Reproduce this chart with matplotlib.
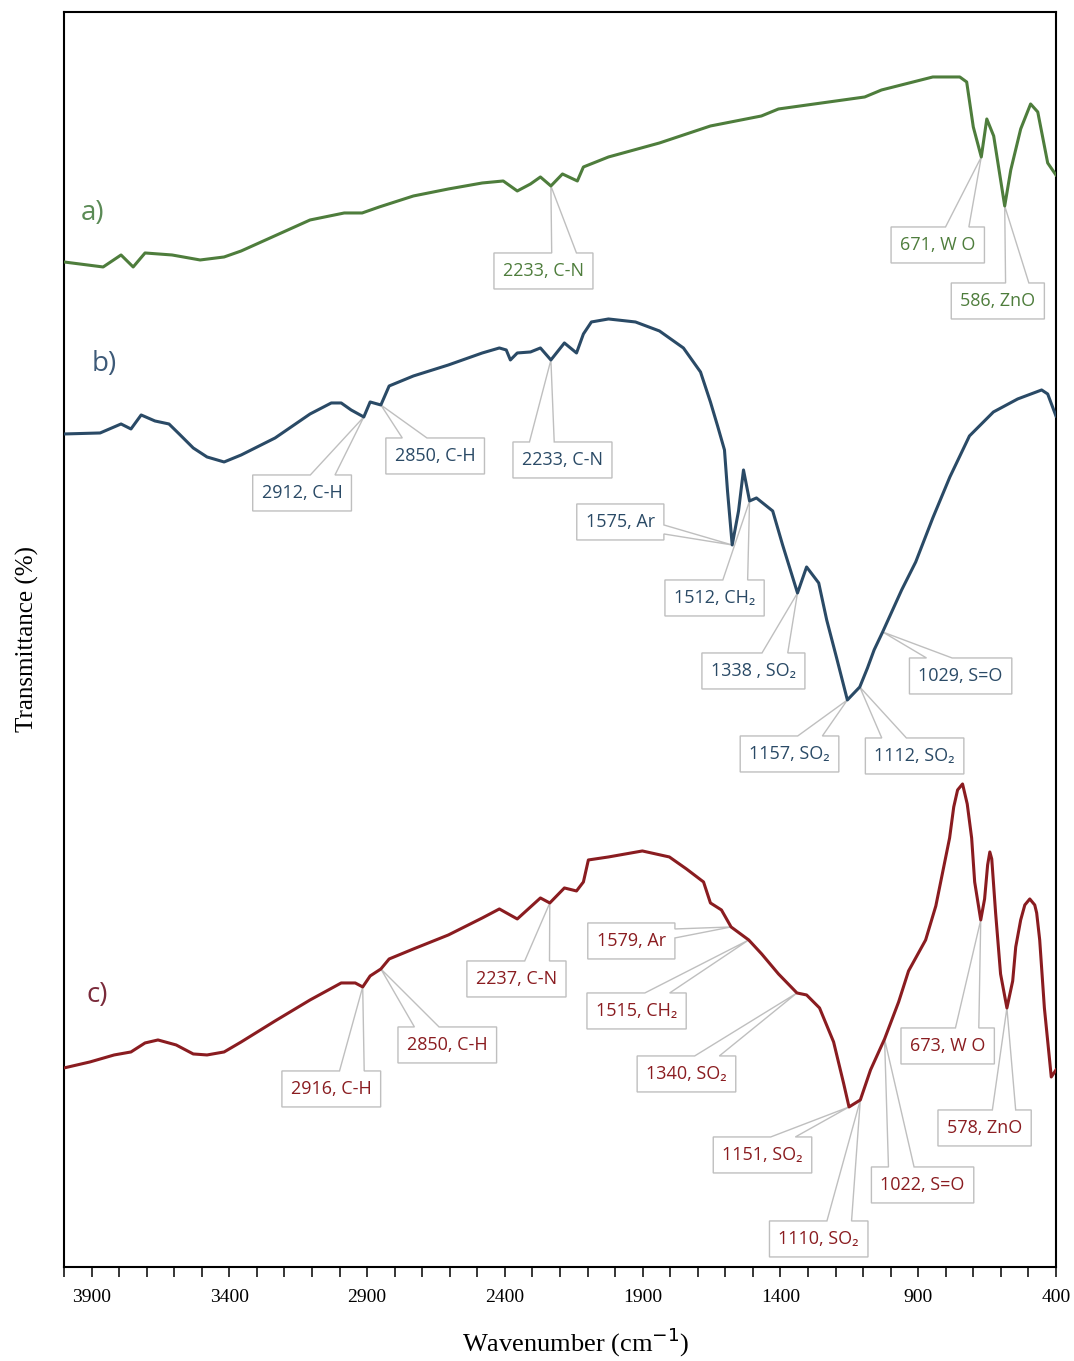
import matplotlib
matplotlib.use("Agg")
import matplotlib.pyplot as plt
from matplotlib.patches import Polygon
import numpy as np

# ---- data (wavenumber cm-1, transmittance a.u.) ----
wn_a = [4000, 3858, 3793, 3749, 3706, 3608, 3506, 3419, 3357, 3107, 2983, 2918, 2856,
        2732, 2605, 2482, 2406, 2355, 2307, 2271, 2233, 2191, 2137, 2115, 2024, 1839,
        1654, 1469, 1407, 1094, 1033, 847, 749, 724, 700, 671, 651, 626, 586, 564, 528,
        492, 466, 430, 400]
t_a = [1005, 1000, 1012, 1000, 1014, 1012, 1007, 1010, 1016, 1047, 1054, 1054, 1060,
       1071, 1078, 1084, 1086, 1076, 1083, 1090, 1081, 1093, 1086, 1100, 1110, 1124,
       1141, 1151, 1158, 1170, 1177, 1190, 1190, 1185, 1140, 1110, 1148, 1131, 1061, 1097,
       1138, 1163, 1155, 1104, 1092]

wn_b = [4000, 3869, 3793, 3757, 3720, 3670, 3619, 3582, 3531, 3481, 3419, 3357, 3234,
        3107, 3030, 2994, 2958, 2912, 2889, 2850, 2820, 2732, 2605, 2482, 2420, 2395,
        2380, 2355, 2307, 2271, 2233, 2184, 2140, 2115, 2086, 2024, 1926, 1839, 1752,
        1690, 1654, 1628, 1603, 1592, 1575, 1552, 1534, 1512, 1487, 1428, 1392, 1338,
        1305, 1261, 1232, 1196, 1157, 1112, 1084, 1060, 1029, 960, 909, 847, 785, 714,
        627, 539, 452, 430, 400]
t_b = [833, 834, 843, 838, 852, 846, 843, 833, 819, 810, 805, 812, 829,
       853, 864, 864, 857, 850, 865, 862, 881, 891, 902, 914, 919, 917,
       907, 914, 915, 919, 907, 924, 914, 933, 945, 948, 945, 936, 919,
       895, 865, 841, 817, 776, 722, 756, 797, 766, 769, 756, 722, 674,
       700, 684, 647, 609, 567, 580, 599, 617, 635, 677, 705, 749, 790, 831,
       855, 868, 877, 873, 851]

wn_c = [4000, 3906, 3818, 3757, 3706, 3659, 3593, 3531, 3481, 3419, 3357, 3234, 3107,
        2994, 2943, 2916, 2889, 2850, 2820, 2732, 2605, 2482, 2420, 2355, 2307, 2271,
        2237, 2184, 2140, 2115, 2097, 2024, 1901, 1803, 1741, 1679, 1654, 1614, 1579,
        1515, 1468, 1407, 1340, 1305, 1258, 1207, 1171, 1151, 1110, 1073, 1022, 971,
        935, 873, 836, 811, 786, 771, 757, 739, 722, 706, 695, 673, 659, 648, 640, 633,
        619, 601, 578, 557, 546, 528, 513, 495, 477, 470, 459, 442, 417, 400]
t_c = [199, 205, 212, 215, 224, 227, 222, 213, 212, 215, 225, 246, 267,
       284, 284, 280, 291, 298, 308, 318, 332, 349, 358, 348, 360, 369,
       364, 379, 376, 385, 407, 410, 416, 410, 398, 385, 364, 357, 340,
       327, 313, 293, 274, 272, 259, 225, 184, 160, 167, 197, 228, 265,
       296, 327, 361, 395, 429, 460, 477, 483, 463, 429, 385, 347, 368, 402, 415, 408,
       354, 293, 259, 286, 320, 347, 362, 368, 362, 354, 327, 259, 190, 197]

# callouts: text, label centre (wn, T), peak (wn, T)
notes_a = [("2233, C-N", 2260, 996, 2233, 1081),
           ("671, W O", 829, 1022, 671, 1110),
           ("586, ZnO", 611, 966, 586, 1061)]
notes_b = [("2912, C-H", 3136, 774, 2912, 850),
           ("2850, C-H", 2653, 811, 2850, 862),
           ("2233, C-N", 2191, 807, 2233, 907),
           ("1575, Ar", 1981, 745, 1575, 722),
           ("1512, CH\u2082", 1639, 669, 1512, 766),
           ("1338 , SO\u2082", 1498, 596, 1338, 674),
           ("1157, SO\u2082", 1367, 513, 1157, 567),
           ("1112, SO\u2082", 913, 511, 1112, 580),
           ("1029, S=O", 746, 591, 1029, 635)]
notes_c = [("2916, C-H", 3030, 178, 2916, 280),
           ("2850, C-H", 2609, 222, 2850, 298),
           ("2237, C-N", 2358, 288, 2237, 364),
           ("1579, Ar", 1941, 326, 1579, 340),
           ("1515, CH\u2082", 1922, 256, 1515, 327),
           ("1340, SO\u2082", 1741, 193, 1340, 274),
           ("1151, SO\u2082", 1465, 112, 1151, 160),
           ("1110, SO\u2082", 1261, 28, 1110, 167),
           ("1022, S=O", 884, 82, 1022, 228),
           ("673, W O", 793, 221, 673, 347),
           ("578, ZnO", 659, 139, 578, 259)]

green = "#4e7d3c"
blue = "#2a4a66"
red = "#8a1c20"

fig = plt.figure(figsize=(10.74, 13.61), dpi=100)
ax = fig.add_axes([0.0596, 0.0691, 0.9236, 0.9221])

ax.plot(wn_a, t_a, color=green, lw=2.2, zorder=3)
ax.plot(wn_b, t_b, color=blue, lw=2.2, zorder=3)
ax.plot(wn_c, t_c, color=red, lw=2.2, zorder=3)

ax.set_xlim(4000, 400)
ax.set_ylim(0, 1255)
ax.set_xticks(np.arange(3900, 399, -500))
ax.set_xticks(np.arange(4000, 399, -100), minor=True)
ax.tick_params(axis="x", which="both", direction="out", length=7, width=1.1,
               labelsize=14, pad=9)
ax.set_yticks([])
for lab in ax.get_xticklabels():
    lab.set_family("Liberation Serif")
for s in ax.spines.values():
    s.set_linewidth(1.5)

ax.set_xlabel("Wavenumber (cm$^{-1}$)", family="Liberation Serif", fontsize=19, labelpad=14)
ax.set_ylabel("Transmittance (%)", family="Liberation Serif", fontsize=18, labelpad=18)
ax.xaxis.label.set_x(0.516)

ax.text(3898, 1054, "a)", color="#5a8a55", fontsize=20, family="Open Sans", ha="center", va="center")
ax.text(3855, 903, "b)", color="#3d5a78", fontsize=20, family="Open Sans", ha="center", va="center")
ax.text(3880, 272, "c)", color="#7a2a3a", fontsize=20, family="Open Sans", ha="center", va="center")

texts = []
for notes, col in [(notes_a, green), (notes_b, blue), (notes_c, red)]:
    for txt, lx, ly, px, py in notes:
        t = ax.text(lx, ly, txt, color=col, fontsize=13, ha="center", va="center",
                    family=["Open Sans", "DejaVu Sans"], zorder=5)
        texts.append((t, px, py))

# Excel-style wedge callouts around the labels
fig.canvas.draw()
r = fig.canvas.get_renderer()
inv = ax.transData.inverted()
padx, pady = 9, 9
for t, px, py in texts:
    bb = t.get_window_extent(r)
    l, rr = bb.x0 - padx, bb.x1 + padx
    b, tp = bb.y0 - pady, bb.y1 + pady
    w, h = rr - l, tp - b
    cx, cy = (l + rr) / 2, (b + tp) / 2
    qx, qy = ax.transData.transform((px, py))
    dx, dy = qx - cx, qy - cy
    if abs(dx) * h > abs(dy) * w:
        f1, f2 = (2 / 12, 5 / 12) if dy > 0 else (7 / 12, 10 / 12)
        y1 = tp - h * f1
        y2 = tp - h * f2
        if dx > 0:
            pts = [(l, b), (l, tp), (rr, tp), (rr, y1), (qx, qy), (rr, y2), (rr, b)]
        else:
            pts = [(rr, b), (rr, tp), (l, tp), (l, y1), (qx, qy), (l, y2), (l, b)]
    else:
        f1, f2 = (7 / 12, 10 / 12) if dx > 0 else (2 / 12, 5 / 12)
        x1 = l + w * f1
        x2 = l + w * f2
        if dy > 0:
            pts = [(l, b), (l, tp), (x1, tp), (qx, qy), (x2, tp), (rr, tp), (rr, b)]
        else:
            pts = [(l, tp), (l, b), (x1, b), (qx, qy), (x2, b), (rr, b), (rr, tp)]
    pts = inv.transform(np.array(pts))
    ax.add_patch(Polygon(pts, closed=True, facecolor="white", edgecolor="#bfbfbf",
                         lw=1.0, zorder=1, clip_on=False))

fig.savefig("out.png", dpi=100)
